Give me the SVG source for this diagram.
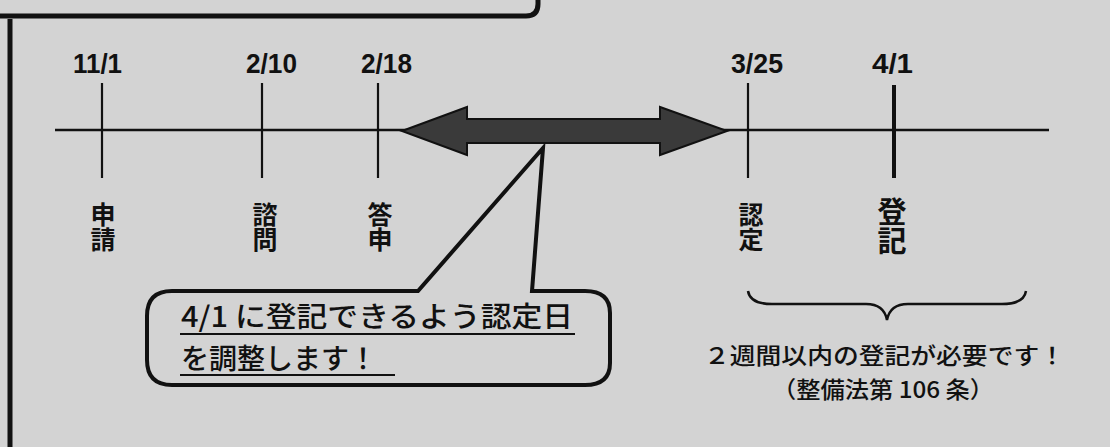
<svg xmlns="http://www.w3.org/2000/svg" width="1110" height="447" viewBox="0 0 1110 447">
<style>
.bg{fill:#d3d3d3}
.ln{stroke:#111;fill:none}
.date{font-family:"Liberation Sans","Noto Sans",sans-serif;font-size:28px;font-weight:bold;fill:#111}
.vl{font-family:"Noto Sans CJK JP","Noto Sans CJK SC",sans-serif;font-size:25px;font-weight:bold;fill:#111;writing-mode:vertical-rl;text-orientation:upright}
.vb{font-size:29px}
.jp{font-family:"Noto Sans CJK JP","Noto Sans CJK SC",sans-serif;fill:#111;font-weight:500}
</style>
<rect class="bg" x="0" y="0" width="1110" height="447"/>
<g id="frame">
<path class="ln" d="M0,16 L526,16 Q538,16 538,4 L538,0" stroke-width="5"/>
<line class="ln" x1="10" y1="19" x2="10" y2="447" stroke-width="5"/>
</g>
<g id="connectors">
<line class="ln" x1="55" y1="130" x2="1049" y2="130" stroke-width="2.5"/>
<line class="ln" x1="102" y1="83" x2="102" y2="178" stroke-width="2.2"/>
<line class="ln" x1="262" y1="83" x2="262" y2="178" stroke-width="2.2"/>
<line class="ln" x1="378" y1="83" x2="378" y2="178" stroke-width="2.2"/>
<line class="ln" x1="748" y1="83" x2="748" y2="178" stroke-width="2.2"/>
<line class="ln" x1="894" y1="85" x2="894" y2="178" stroke-width="4"/>
<path id="span-arrow" d="M402,131 L467,107 L467,119 L660,119 L660,107 L727,131 L660,155 L660,143 L467,143 L467,155 Z" fill="#3a3a3a" stroke="#111" stroke-width="2" stroke-linejoin="miter"/>
<path id="brace" class="ln" d="M748,291 Q750,304 772,304 L866,304 Q884,304 887,320 Q890,304 908,304 L1002,304 Q1024,304 1026,291" stroke-width="2.5"/>
</g>
<g id="d-1101"><text class="date" x="73" y="73" textLength="49" lengthAdjust="spacingAndGlyphs">11/1</text></g>
<g id="d-0210"><text class="date" x="246" y="73" textLength="51" lengthAdjust="spacingAndGlyphs">2/10</text></g>
<g id="d-0218"><text class="date" x="361" y="73" textLength="51" lengthAdjust="spacingAndGlyphs">2/18</text></g>
<g id="d-0325"><text class="date" x="731" y="73" textLength="52" lengthAdjust="spacingAndGlyphs">3/25</text></g>
<g id="d-0401"><text class="date" x="872" y="73" textLength="41" lengthAdjust="spacingAndGlyphs">4/1</text></g>
<g id="ev-shinsei"><text class="vl" x="103" y="202">申請</text></g>
<g id="ev-shimon"><text class="vl" x="265" y="202">諮問</text></g>
<g id="ev-toushin"><text class="vl" x="380" y="202">答申</text></g>
<g id="ev-nintei"><text class="vl" x="751" y="202">認定</text></g>
<g id="ev-touki"><text class="vl vb" x="892" y="197">登記</text></g>
<g id="callout">
<path class="bg" d="M172,291 L418,291 L543,148 L532,291 L585,291 Q610,291 610,313 L610,363 Q610,385 585,385 L172,385 Q147,385 147,360 L147,316 Q147,291 172,291 Z" stroke="#111" stroke-width="4" stroke-linejoin="miter"/>
<text class="jp" font-size="28"><tspan x="181" y="327" textLength="392" lengthAdjust="spacingAndGlyphs">4/1 に登記できるよう認定日</tspan><tspan x="181" y="369">を調整します！</tspan></text>
<line class="ln" x1="180" y1="334" x2="575" y2="334" stroke-width="2"/>
<line class="ln" x1="180" y1="375" x2="395" y2="375" stroke-width="2"/>
</g>
<g id="note">
<text class="jp" font-size="23"><tspan x="704" y="364" textLength="361" lengthAdjust="spacingAndGlyphs">２週間以内の登記が必要です！</tspan><tspan x="772" y="398" textLength="222" lengthAdjust="spacingAndGlyphs">（整備法第 106 条）</tspan></text>
</g>
</svg>
